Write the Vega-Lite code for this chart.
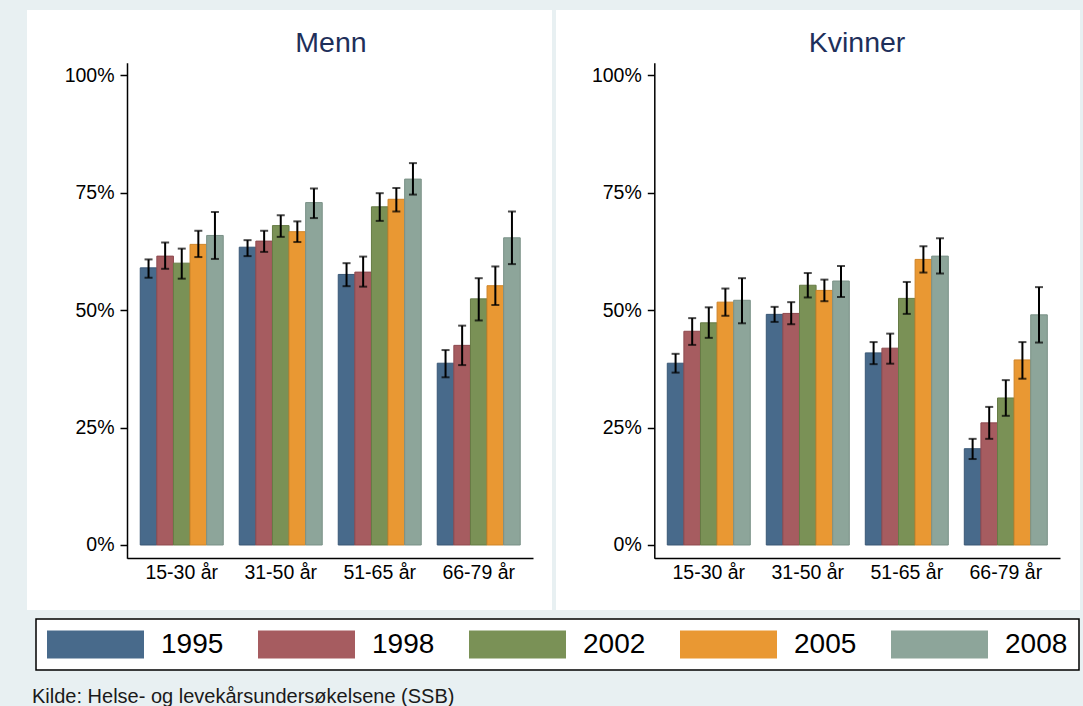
{
  "$schema": "https://vega.github.io/schema/vega-lite/v6.json",
  "background": "#e8f0f2",
  "padding": {"left": 27, "top": 10, "right": 3, "bottom": 0},
  "config": {
    "font": "Liberation Sans",
    "view": {"fill": "white", "stroke": null},
    "concat": {"spacing": 4},
    "axis": {"grid": false, "labelFont": "Liberation Sans", "labelColor": "black", "labelFontSize": 19.5, "domainColor": "black", "tickColor": "black", "title": null},
    "legend": {"strokeWidth": 1.5}
  },
  "datasets": {
    "d": [
      {"kjonn": "Menn", "alder": "15-30 år", "year": "1995", "value": 59.0, "lo": 56.9, "hi": 60.8},
      {"kjonn": "Menn", "alder": "15-30 år", "year": "1998", "value": 61.5, "lo": 58.8, "hi": 64.4},
      {"kjonn": "Menn", "alder": "15-30 år", "year": "2002", "value": 60.0, "lo": 56.7, "hi": 63.1},
      {"kjonn": "Menn", "alder": "15-30 år", "year": "2005", "value": 64.0, "lo": 61.3, "hi": 66.9},
      {"kjonn": "Menn", "alder": "15-30 år", "year": "2008", "value": 65.9, "lo": 60.9, "hi": 70.9},
      {"kjonn": "Menn", "alder": "31-50 år", "year": "1995", "value": 63.4, "lo": 61.5, "hi": 64.9},
      {"kjonn": "Menn", "alder": "31-50 år", "year": "1998", "value": 64.7, "lo": 62.4, "hi": 66.9},
      {"kjonn": "Menn", "alder": "31-50 år", "year": "2002", "value": 68.0, "lo": 65.6, "hi": 70.2},
      {"kjonn": "Menn", "alder": "31-50 år", "year": "2005", "value": 66.7, "lo": 64.5, "hi": 68.9},
      {"kjonn": "Menn", "alder": "31-50 år", "year": "2008", "value": 72.9, "lo": 69.6, "hi": 75.9},
      {"kjonn": "Menn", "alder": "51-65 år", "year": "1995", "value": 57.6, "lo": 55.1, "hi": 60.0},
      {"kjonn": "Menn", "alder": "51-65 år", "year": "1998", "value": 58.1, "lo": 55.0, "hi": 61.4},
      {"kjonn": "Menn", "alder": "51-65 år", "year": "2002", "value": 72.0, "lo": 69.0, "hi": 74.9},
      {"kjonn": "Menn", "alder": "51-65 år", "year": "2005", "value": 73.6, "lo": 71.0, "hi": 76.0},
      {"kjonn": "Menn", "alder": "51-65 år", "year": "2008", "value": 77.9, "lo": 74.6, "hi": 81.3},
      {"kjonn": "Menn", "alder": "66-79 år", "year": "1995", "value": 38.7, "lo": 35.7, "hi": 41.5},
      {"kjonn": "Menn", "alder": "66-79 år", "year": "1998", "value": 42.5, "lo": 38.3, "hi": 46.7},
      {"kjonn": "Menn", "alder": "66-79 år", "year": "2002", "value": 52.4, "lo": 47.8, "hi": 56.8},
      {"kjonn": "Menn", "alder": "66-79 år", "year": "2005", "value": 55.2, "lo": 51.1, "hi": 59.3},
      {"kjonn": "Menn", "alder": "66-79 år", "year": "2008", "value": 65.4, "lo": 59.8, "hi": 71.0},
      {"kjonn": "Kvinner", "alder": "15-30 år", "year": "1995", "value": 38.7, "lo": 36.7, "hi": 40.7},
      {"kjonn": "Kvinner", "alder": "15-30 år", "year": "1998", "value": 45.5, "lo": 42.6, "hi": 48.3},
      {"kjonn": "Kvinner", "alder": "15-30 år", "year": "2002", "value": 47.3, "lo": 44.1, "hi": 50.6},
      {"kjonn": "Kvinner", "alder": "15-30 år", "year": "2005", "value": 51.7, "lo": 48.8, "hi": 54.6},
      {"kjonn": "Kvinner", "alder": "15-30 år", "year": "2008", "value": 52.1, "lo": 47.2, "hi": 56.8},
      {"kjonn": "Kvinner", "alder": "31-50 år", "year": "1995", "value": 49.1, "lo": 47.5, "hi": 50.7},
      {"kjonn": "Kvinner", "alder": "31-50 år", "year": "1998", "value": 49.3, "lo": 47.0, "hi": 51.7},
      {"kjonn": "Kvinner", "alder": "31-50 år", "year": "2002", "value": 55.3, "lo": 52.7, "hi": 57.9},
      {"kjonn": "Kvinner", "alder": "31-50 år", "year": "2005", "value": 54.2, "lo": 51.9, "hi": 56.5},
      {"kjonn": "Kvinner", "alder": "31-50 år", "year": "2008", "value": 56.2, "lo": 52.8, "hi": 59.4},
      {"kjonn": "Kvinner", "alder": "51-65 år", "year": "1995", "value": 40.9, "lo": 38.5, "hi": 43.2},
      {"kjonn": "Kvinner", "alder": "51-65 år", "year": "1998", "value": 41.9, "lo": 38.6, "hi": 45.0},
      {"kjonn": "Kvinner", "alder": "51-65 år", "year": "2002", "value": 52.5, "lo": 49.2, "hi": 56.0},
      {"kjonn": "Kvinner", "alder": "51-65 år", "year": "2005", "value": 60.8, "lo": 58.0, "hi": 63.6},
      {"kjonn": "Kvinner", "alder": "51-65 år", "year": "2008", "value": 61.5, "lo": 57.8, "hi": 65.3},
      {"kjonn": "Kvinner", "alder": "66-79 år", "year": "1995", "value": 20.5, "lo": 18.3, "hi": 22.6},
      {"kjonn": "Kvinner", "alder": "66-79 år", "year": "1998", "value": 26.0, "lo": 22.6, "hi": 29.4},
      {"kjonn": "Kvinner", "alder": "66-79 år", "year": "2002", "value": 31.3, "lo": 27.5, "hi": 35.1},
      {"kjonn": "Kvinner", "alder": "66-79 år", "year": "2005", "value": 39.4, "lo": 35.4, "hi": 43.2},
      {"kjonn": "Kvinner", "alder": "66-79 år", "year": "2008", "value": 49.0, "lo": 43.1, "hi": 54.9}
    ]
  },
  "title": {"text": "Kilde: Helse- og levekårsundersøkelsene (SSB)", "orient": "bottom", "anchor": "start", "frame": "bounds", "fontSize": 20, "fontWeight": "normal", "font": "Liberation Sans", "color": "#1a1a1a", "offset": 32, "baseline": "alphabetic", "dx": 5},
  "hconcat": [
    {
      "width": 525,
      "height": 600,
      "title": {"text": "Menn", "fontSize": 28.5, "fontWeight": "normal", "font": "Liberation Sans", "color": "#1e2f5a", "offset": -70, "baseline": "alphabetic", "anchor": "middle", "dx": 41.5},
      "data": {"name": "d"},
      "transform": [{"filter": "datum.kjonn === 'Menn'"}],
      "encoding": {
        "x": {"field": "alder", "type": "nominal", "sort": null,
              "scale": {"paddingInner": 0.1616, "paddingOuter": 0.7323, "align": 0.781},
              "axis": {"offset": -52, "ticks": false, "labelPadding": 5, "domainWidth": 1.5, "domainDash": [406, 3000], "domainDashOffset": 3306, "labelAngle": 0, "title": null}},
        "xOffset": {"field": "year", "type": "nominal", "scale": {"paddingInner": 0, "paddingOuter": 0}}
      },
      "layer": [
        {
          "mark": {"type": "bar", "strokeWidth": 1},
          "encoding": {
            "y": {"field": "value", "type": "quantitative",
                  "scale": {"domain": [-13.84, 113.9], "nice": false, "zero": false},
                  "axis": {"values": [0, 25, 50, 75, 100], "labelExpr": "datum.value + '%'", "offset": -100, "tickSize": 7, "tickWidth": 1.5, "domainWidth": 1.5, "labelPadding": 6, "domainDash": [495.6, 3000], "domainDashOffset": 3443.9, "title": null}},
            "y2": {"datum": 0},
            "color": {"field": "year", "type": "nominal",
                      "scale": {"domain": ["1995", "1998", "2002", "2005", "2008"], "range": ["#486a8b", "#a65c60", "#7a9156", "#e99833", "#8da59a"]},
                      "legend": {"title": null, "orient": "none", "legendX": 9, "legendY": 609, "direction": "horizontal", "symbolType": "M-1,-0.29H1V0.29H-1Z", "symbolSize": 9409, "clipHeight": 29, "labelFontSize": 28, "labelFont": "Liberation Sans", "labelColor": "black", "labelOffset": 17, "columnPadding": 34, "padding": 11, "fillColor": "white", "strokeColor": "black", "symbolStrokeWidth": 0, "symbolOpacity": 1}},
            "stroke": {"field": "year", "type": "nominal",
                       "scale": {"domain": ["1995", "1998", "2002", "2005", "2008"], "range": ["#3a5876", "#8e4a4f", "#667b45", "#cf8428", "#7a9187"]},
                       "legend": null}
          }
        },
        {
          "mark": {"type": "rule", "strokeWidth": 2, "color": "black"},
          "encoding": {"y": {"field": "lo", "type": "quantitative"}, "y2": {"field": "hi"}}
        },
        {
          "mark": {"type": "tick", "size": 8, "thickness": 2, "color": "black", "orient": "horizontal"},
          "encoding": {"y": {"field": "lo", "type": "quantitative"}}
        },
        {
          "mark": {"type": "tick", "size": 8, "thickness": 2, "color": "black", "orient": "horizontal"},
          "encoding": {"y": {"field": "hi", "type": "quantitative"}}
        }
      ]
    },
    {
      "width": 524,
      "height": 600,
      "title": {"text": "Kvinner", "fontSize": 28.5, "fontWeight": "normal", "font": "Liberation Sans", "color": "#1e2f5a", "offset": -70, "baseline": "alphabetic", "anchor": "middle", "dx": 39},
      "data": {"name": "d"},
      "transform": [{"filter": "datum.kjonn === 'Kvinner'"}],
      "encoding": {
        "x": {"field": "alder", "type": "nominal", "sort": null,
              "scale": {"paddingInner": 0.1616, "paddingOuter": 0.727, "align": 0.773},
              "axis": {"offset": -52, "ticks": false, "labelPadding": 5, "domainWidth": 1.5, "domainDash": [405.7, 3000], "domainDashOffset": 3307.4, "labelAngle": 0, "title": null}},
        "xOffset": {"field": "year", "type": "nominal", "scale": {"paddingInner": 0, "paddingOuter": 0}}
      },
      "layer": [
        {
          "mark": {"type": "bar", "strokeWidth": 1},
          "encoding": {
            "y": {"field": "value", "type": "quantitative",
                  "scale": {"domain": [-13.84, 113.9], "nice": false, "zero": false},
                  "axis": {"values": [0, 25, 50, 75, 100], "labelExpr": "datum.value + '%'", "offset": -98.3, "tickSize": 7, "tickWidth": 1.5, "domainWidth": 1.5, "labelPadding": 6, "domainDash": [495.6, 3000], "domainDashOffset": 3443.9, "title": null}},
            "y2": {"datum": 0},
            "color": {"field": "year", "type": "nominal"},
            "stroke": {"field": "year", "type": "nominal", "legend": null}
          }
        },
        {
          "mark": {"type": "rule", "strokeWidth": 2, "color": "black"},
          "encoding": {"y": {"field": "lo", "type": "quantitative"}, "y2": {"field": "hi"}}
        },
        {
          "mark": {"type": "tick", "size": 8, "thickness": 2, "color": "black", "orient": "horizontal"},
          "encoding": {"y": {"field": "lo", "type": "quantitative"}}
        },
        {
          "mark": {"type": "tick", "size": 8, "thickness": 2, "color": "black", "orient": "horizontal"},
          "encoding": {"y": {"field": "hi", "type": "quantitative"}}
        }
      ]
    }
  ]
}
